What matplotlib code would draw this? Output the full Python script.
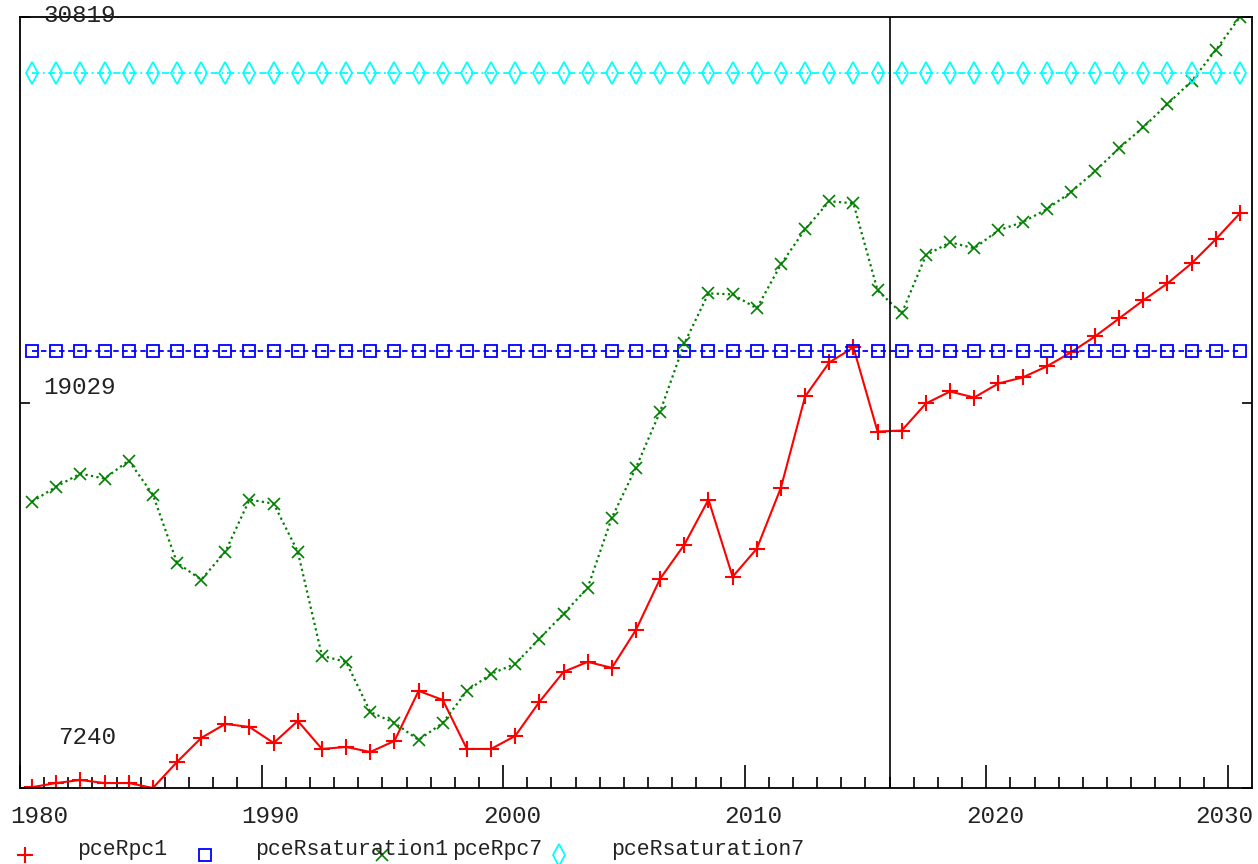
import numpy as np
import matplotlib
matplotlib.use("Agg")
import matplotlib.pyplot as plt
import matplotlib.transforms as mtransforms
from matplotlib.lines import Line2D

# annual series, 1980-2030
years = np.arange(1980, 2031)

pceRpc1 = [7265, 7392, 7484, 7392, 7392, 7240, 8036, 8770, 9199, 9107,
           8617, 9291, 8434, 8495, 8342, 8679, 10210, 9934, 8434, 8434,
           8832, 9873, 10792, 11098, 10914, 12078, 13639, 14681, 16059, 13701,
           14558, 16426, 19213, 20254, 20713, 18141, 18172, 18999, 19366, 19182,
           19611, 19795, 20132, 20560, 21050, 21601, 22153, 22673, 23286, 24021,
           24817]

pceRpc7 = [15997, 16457, 16855, 16702, 17253, 16212, 14129, 13609, 14466, 16059,
           15936, 14466, 11282, 11098, 9567, 9230, 8709, 9230, 10210, 10730,
           11037, 11802, 12568, 13364, 15507, 17039, 18754, 20836, 22367, 22336,
           21908, 23255, 24327, 25184, 25123, 22459, 21755, 23531, 23929, 23745,
           24296, 24541, 24939, 25460, 26103, 26807, 27450, 28155, 28859, 29808,
           30819]

pceRsaturation1 = [20591] * len(years)
pceRsaturation7 = [29104] * len(years)

ytick_vals = [7240, 19029, 30819]
ytick_shift = [51, 15, 2]  # pixels above the tick
xtick_years = [1980, 1990, 2000, 2010, 2020, 2030]
split_year = 2016

names = ["pceRpc1", "pceRsaturation1", "pceRpc7", "pceRsaturation7"]

FONT = "Liberation Mono"
FS = 17.5

fig = plt.figure(figsize=(12.58, 8.64), dpi=100)
ax = fig.add_axes([20 / 1258, 1 - 788 / 864, 1232 / 1258, 771 / 864])

x = years + 0.5  # values sit mid-year

ax.plot(x, pceRpc1, color="#ff0000", lw=1.5, marker="+", ms=11, mew=1.5)
ax.plot(x, pceRsaturation1, color="#0000ff", lw=1.3, ls=(0, (3, 2)),
        marker="s", ms=8, mfc="none", mew=1.3)
ax.plot(x, pceRpc7, color="#008000", lw=1.6, ls=(0, (1, 1.5)),
        marker="x", ms=9, mew=1.2)
ax.plot(x, pceRsaturation7, color="#00ffff", lw=1.3, ls=(0, (4, 2, 1, 2)),
        marker="d", ms=11, mfc="none", mew=1.3)

ax.axvline(split_year, color="black", lw=1.2)

ax.set_xlim(1980, 2031)
ax.set_ylim(min(ytick_vals), max(ytick_vals))

for s in ax.spines.values():
    s.set_linewidth(1.3)

ax.set_xticks(xtick_years)
ax.set_xticks(years, minor=True)
ax.set_xticklabels([str(y) for y in xtick_years], fontfamily=FONT, fontsize=FS,
                   color="#222222")
ax.tick_params(axis="x", which="major", direction="in", length=16.5, width=1.2,
               pad=12, top=False)
ax.tick_params(axis="x", which="minor", direction="in", length=8, width=1.2,
               top=False)

# shift year labels a little right, keep the end ones inside the figure
offset = mtransforms.ScaledTranslation(9 / 100, 0, fig.dpi_scale_trans)
labels = ax.get_xticklabels()
for lab in labels:
    lab.set_transform(lab.get_transform() + offset)
labels[0].set_horizontalalignment("left")
labels[0].set_transform(labels[0].get_transform()
                        + mtransforms.ScaledTranslation(-19 / 100, 0, fig.dpi_scale_trans))
labels[-1].set_horizontalalignment("right")
labels[-1].set_transform(labels[-1].get_transform()
                         + mtransforms.ScaledTranslation(16 / 100, 0, fig.dpi_scale_trans))

ax.set_yticks(ytick_vals)
ax.set_yticklabels([])
ax.tick_params(axis="y", direction="in", length=7.2, width=1.2,
               left=True, right=True)

for v, dy in zip(ytick_vals, ytick_shift):
    ax.annotate(str(v), xy=(96 / 1232, v), xycoords=("axes fraction", "data"),
                xytext=(0, dy), textcoords="offset pixels", ha="right",
                va="center", fontfamily=FONT, fontsize=FS, color="#222222",
                annotation_clip=False)

# key along the bottom
key_styles = [
    dict(color="#ff0000", marker="+", ms=11, mew=1.5),
    dict(color="#0000ff", marker="s", ms=8, mfc="none", mew=1.3),
    dict(color="#008000", marker="x", ms=9, mew=1.2),
    dict(color="#00ffff", marker="d", ms=11, mfc="none", mew=1.3),
]
key_marker_x = [25, 205, 382, 559]
key_text_x = [77, 255, 452, 611]
for name, st, mx, tx in zip(names, key_styles, key_marker_x, key_text_x):
    fig.add_artist(Line2D([mx / 1258], [1 - 855 / 864], transform=fig.transFigure,
                          ls="none", **st))
    fig.text(tx / 1258, 1 - 850 / 864, name, fontfamily=FONT, fontsize=15.5,
             color="#222222", ha="left", va="center")

fig.savefig("out.png", dpi=100)
